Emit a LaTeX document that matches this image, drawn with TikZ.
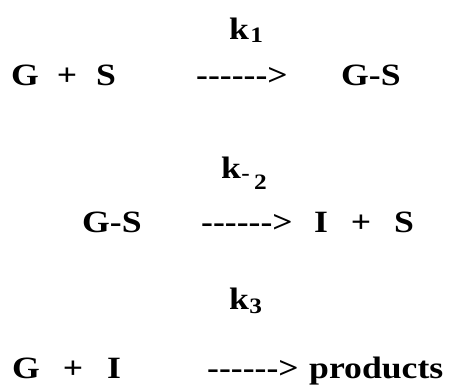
\documentclass[tikz,border=0pt]{standalone}
\usepackage{fontspec}
\setmainfont{Liberation Serif}[Ligatures=TeXOff]
\newcommand{\wide}[1]{\scalebox{1.15}[1]{#1}}
\begin{document}
\begin{tikzpicture}[x=1pt,y=-1pt,
  txt/.style={inner sep=0pt,anchor=base west,font=\fontsize{31}{31}\selectfont\bfseries},
  sub/.style={inner sep=0pt,anchor=base west,font=\fontsize{22}{22}\selectfont\bfseries},
  cen/.style={inner sep=0pt,anchor=base,font=\fontsize{31}{31}\selectfont\bfseries}]
\useasboundingbox (0,0) rectangle (454,385);
% row 1
\node[txt] (k1) at (229,40) {\wide{k}};
\node[sub,yshift=-3pt,xshift=1pt] (k1s) at (k1.base east) {\wide{1}};
\node[txt] (g1) at (11,85) {\wide{G}};
\node[cen] (p1) at (67,85) {\wide{+}};
\node[txt] (s1) at (96,85) {\wide{S}};
\node[txt] (a1) at (196,85) {\wide{------>}};
\node[txt] (gs1) at (341,85) {\wide{G-S}};
% row 2
\node[txt] (k2) at (221,178) {\wide{k}};
\node[sub,yshift=-2pt] (k2m) at (k2.base east) {\wide{-}};
\node[sub] (k2s) at (254,189) {\wide{2}};
\node[txt] (gs2) at (82,232) {\wide{G-S}};
\node[txt] (a2) at (201,232) {\wide{------>}};
\node[txt] (i2) at (314,232) {\wide{I}};
\node[cen] (p2) at (361,232) {\wide{+}};
\node[txt] (s2) at (394,232) {\wide{S}};
% row 3
\node[txt] (k3) at (229,309) {\wide{k}};
\node[sub,yshift=-4pt] (k3s) at (k3.base east) {\wide{3}};
\node[txt] (g3) at (12,378) {\wide{G}};
\node[cen] (p3) at (73,378) {\wide{+}};
\node[txt] (i3) at (107,378) {\wide{I}};
\node[txt] (a3) at (207,378) {\wide{------>}};
\node[txt] (pr) at (309,378) {\wide{products}};
\end{tikzpicture}
\end{document}
